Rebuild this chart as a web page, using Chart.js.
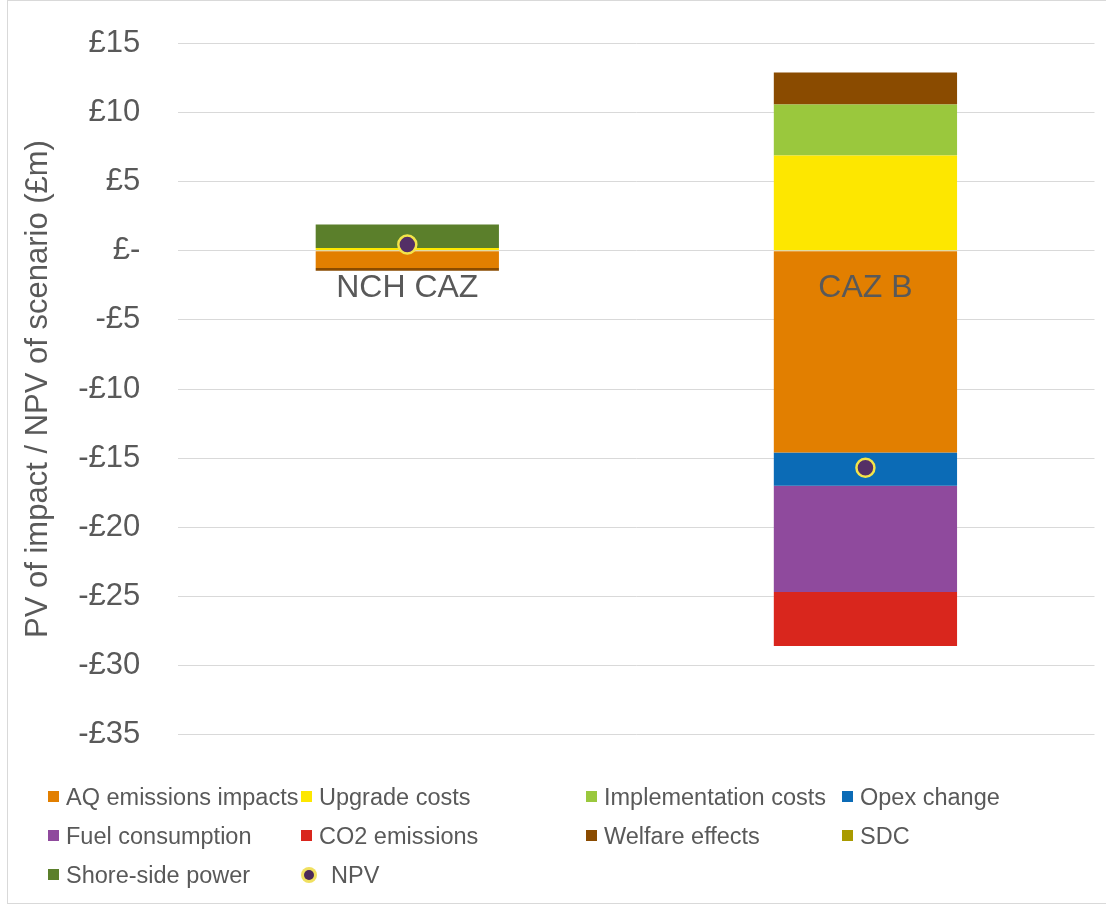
<!DOCTYPE html>
<html>
<head>
<meta charset="utf-8">
<script src="https://cdn.jsdelivr.net/npm/chart.js@4"></script>
<style>
	body { margin:0; background:#fff; font-family:"Liberation Sans", Arial, sans-serif; overflow:hidden; }
	#wrap { position:relative; width:1106px; height:904px; overflow:hidden; }
	#frame { position:absolute; left:7px; top:0; width:1110px; height:902px; border:1px solid #d9d9d9; }
	#holder { position:absolute; left:0; top:-13px; width:1106px; height:804px; }
	#legend { position:absolute; left:48px; top:780px; display:grid;
		grid-template-columns:253px 285px 256px 220px; }
	.item { height:39px; line-height:34px; font-size:23.5px; color:#595959; white-space:nowrap; }
	.box { display:inline-block; width:11px; height:11px; margin-right:7px; vertical-align:middle; position:relative; top:-2px; }
	.dot { display:inline-block; width:10px; height:10px; border-radius:50%; background:#4b2a5a;
		box-shadow:0 0 0 3px #f0e060; margin:0 17px 0 3px; vertical-align:middle; position:relative; top:-2px; }
</style>
</head>
<body>
<div id="wrap">
	<div id="frame"></div>
	<div id="holder"><canvas id="mycanvas"></canvas></div>
	<div id="legend"></div>
</div>
<script>
// scenarios on x axis
var scenarios = ['NCH CAZ', 'CAZ B'];

// PV of each impact (£m) per scenario
var aqEmissions    = [-1.25, -14.6];
var upgradeCosts   = [0.2, 6.9];
var implementation = [0, 3.7];
var opexChange     = [0, -2.4];
var fuelUse        = [0, -7.7];
var co2Emissions   = [0, -3.9];
var welfare        = [-0.2, 2.3];
var sdc            = [0, 0];
var shoreSide      = [1.7, 0];
var npv            = [0.45, -15.7];

// y axis ticks
var yMin = -35, yMax = 15, yStep = 5;

var series = [
	{label:'AQ emissions impacts', data:aqEmissions, color:'#e27f00'},
	{label:'Upgrade costs', data:upgradeCosts, color:'#fde700'},
	{label:'Implementation costs', data:implementation, color:'#9ac83d'},
	{label:'Opex change', data:opexChange, color:'#0b6bb6'},
	{label:'Fuel consumption', data:fuelUse, color:'#8f4a9d'},
	{label:'CO2 emissions', data:co2Emissions, color:'#d9261d'},
	{label:'Welfare effects', data:welfare, color:'#8a4b00'},
	{label:'SDC', data:sdc, color:'#a99a00'},
	{label:'Shore-side power', data:shoreSide, color:'#5b7f2b'}
];

var font = '"Liberation Sans", Arial, sans-serif';

var datasets = [];
for (var i in series) {
	datasets.push({
		type:'bar',
		label:series[i].label,
		data:series[i].data,
		backgroundColor:series[i].color,
		stack:'impacts',
		barPercentage:0.4,
		categoryPercentage:1.0
	});
}
// NPV marker on top
datasets.push({
	type:'line',
	label:'NPV',
	data:npv,
	stack:'npv',
	showLine:false,
	pointRadius:9,
	pointHoverRadius:9,
	pointBackgroundColor:'#542f66',
	pointBorderColor:'#f3e44a',
	pointBorderWidth:2.5,
	order:-1
});

// category names drawn under the zero line, like excel does
var catLabels = {
	id:'catLabels',
	afterDatasetsDraw: function(chart) {
		var ctx = chart.ctx;
		var x = chart.scales.x, y = chart.scales.y;
		ctx.save();
		ctx.font = '32px ' + font;
		ctx.fillStyle = '#595959';
		ctx.textAlign = 'center';
		ctx.textBaseline = 'middle';
		for (var j = 0; j < scenarios.length; j++) {
			ctx.fillText(scenarios[j], x.getPixelForValue(j), y.getPixelForValue(0) + 37);
		}
		ctx.restore();
	}
};

// simple html legend in four columns
var leg = document.getElementById('legend');
for (var k in datasets) {
	var d = datasets[k];
	var el = document.createElement('div');
	el.className = 'item';
	if (d.type == 'bar') {
		el.innerHTML = '<span class="box" style="background:' + d.backgroundColor + '"></span>' + d.label;
	} else {
		el.innerHTML = '<span class="dot"></span>' + d.label;
	}
	leg.appendChild(el);
}

var ctx = document.getElementById('mycanvas');
var chart = new Chart(ctx, {
	data: { labels:scenarios, datasets:datasets },
	plugins:[catLabels],
	options: {
		responsive:true,
		maintainAspectRatio:false,
		animation:false,
		layout:{ padding:{ left:20, right:-4, top:10, bottom:10 } },
		plugins:{ legend:{ display:false }, tooltip:{ enabled:false } },
		scales:{
			x:{ stacked:true, display:false },
			y:{
				stacked:true,
				min:yMin, max:yMax,
				ticks:{
					stepSize:yStep,
					padding:38,
					color:'#595959',
					font:{ size:31, family:font },
					callback:function(v) {
						if (v == 0) return '£-';
						return v < 0 ? '-£' + (-v) : '£' + v;
					}
				},
				grid:{ color:'#d9d9d9', drawTicks:false },
				border:{ display:false },
				title:{
					display:true,
					text:'PV of impact / NPV of scenario (£m)',
					color:'#595959',
					font:{ size:31, family:font },
					padding:{ top:0, bottom:-17 }
				}
			}
		}
	}
});
</script>
</body>
</html>
